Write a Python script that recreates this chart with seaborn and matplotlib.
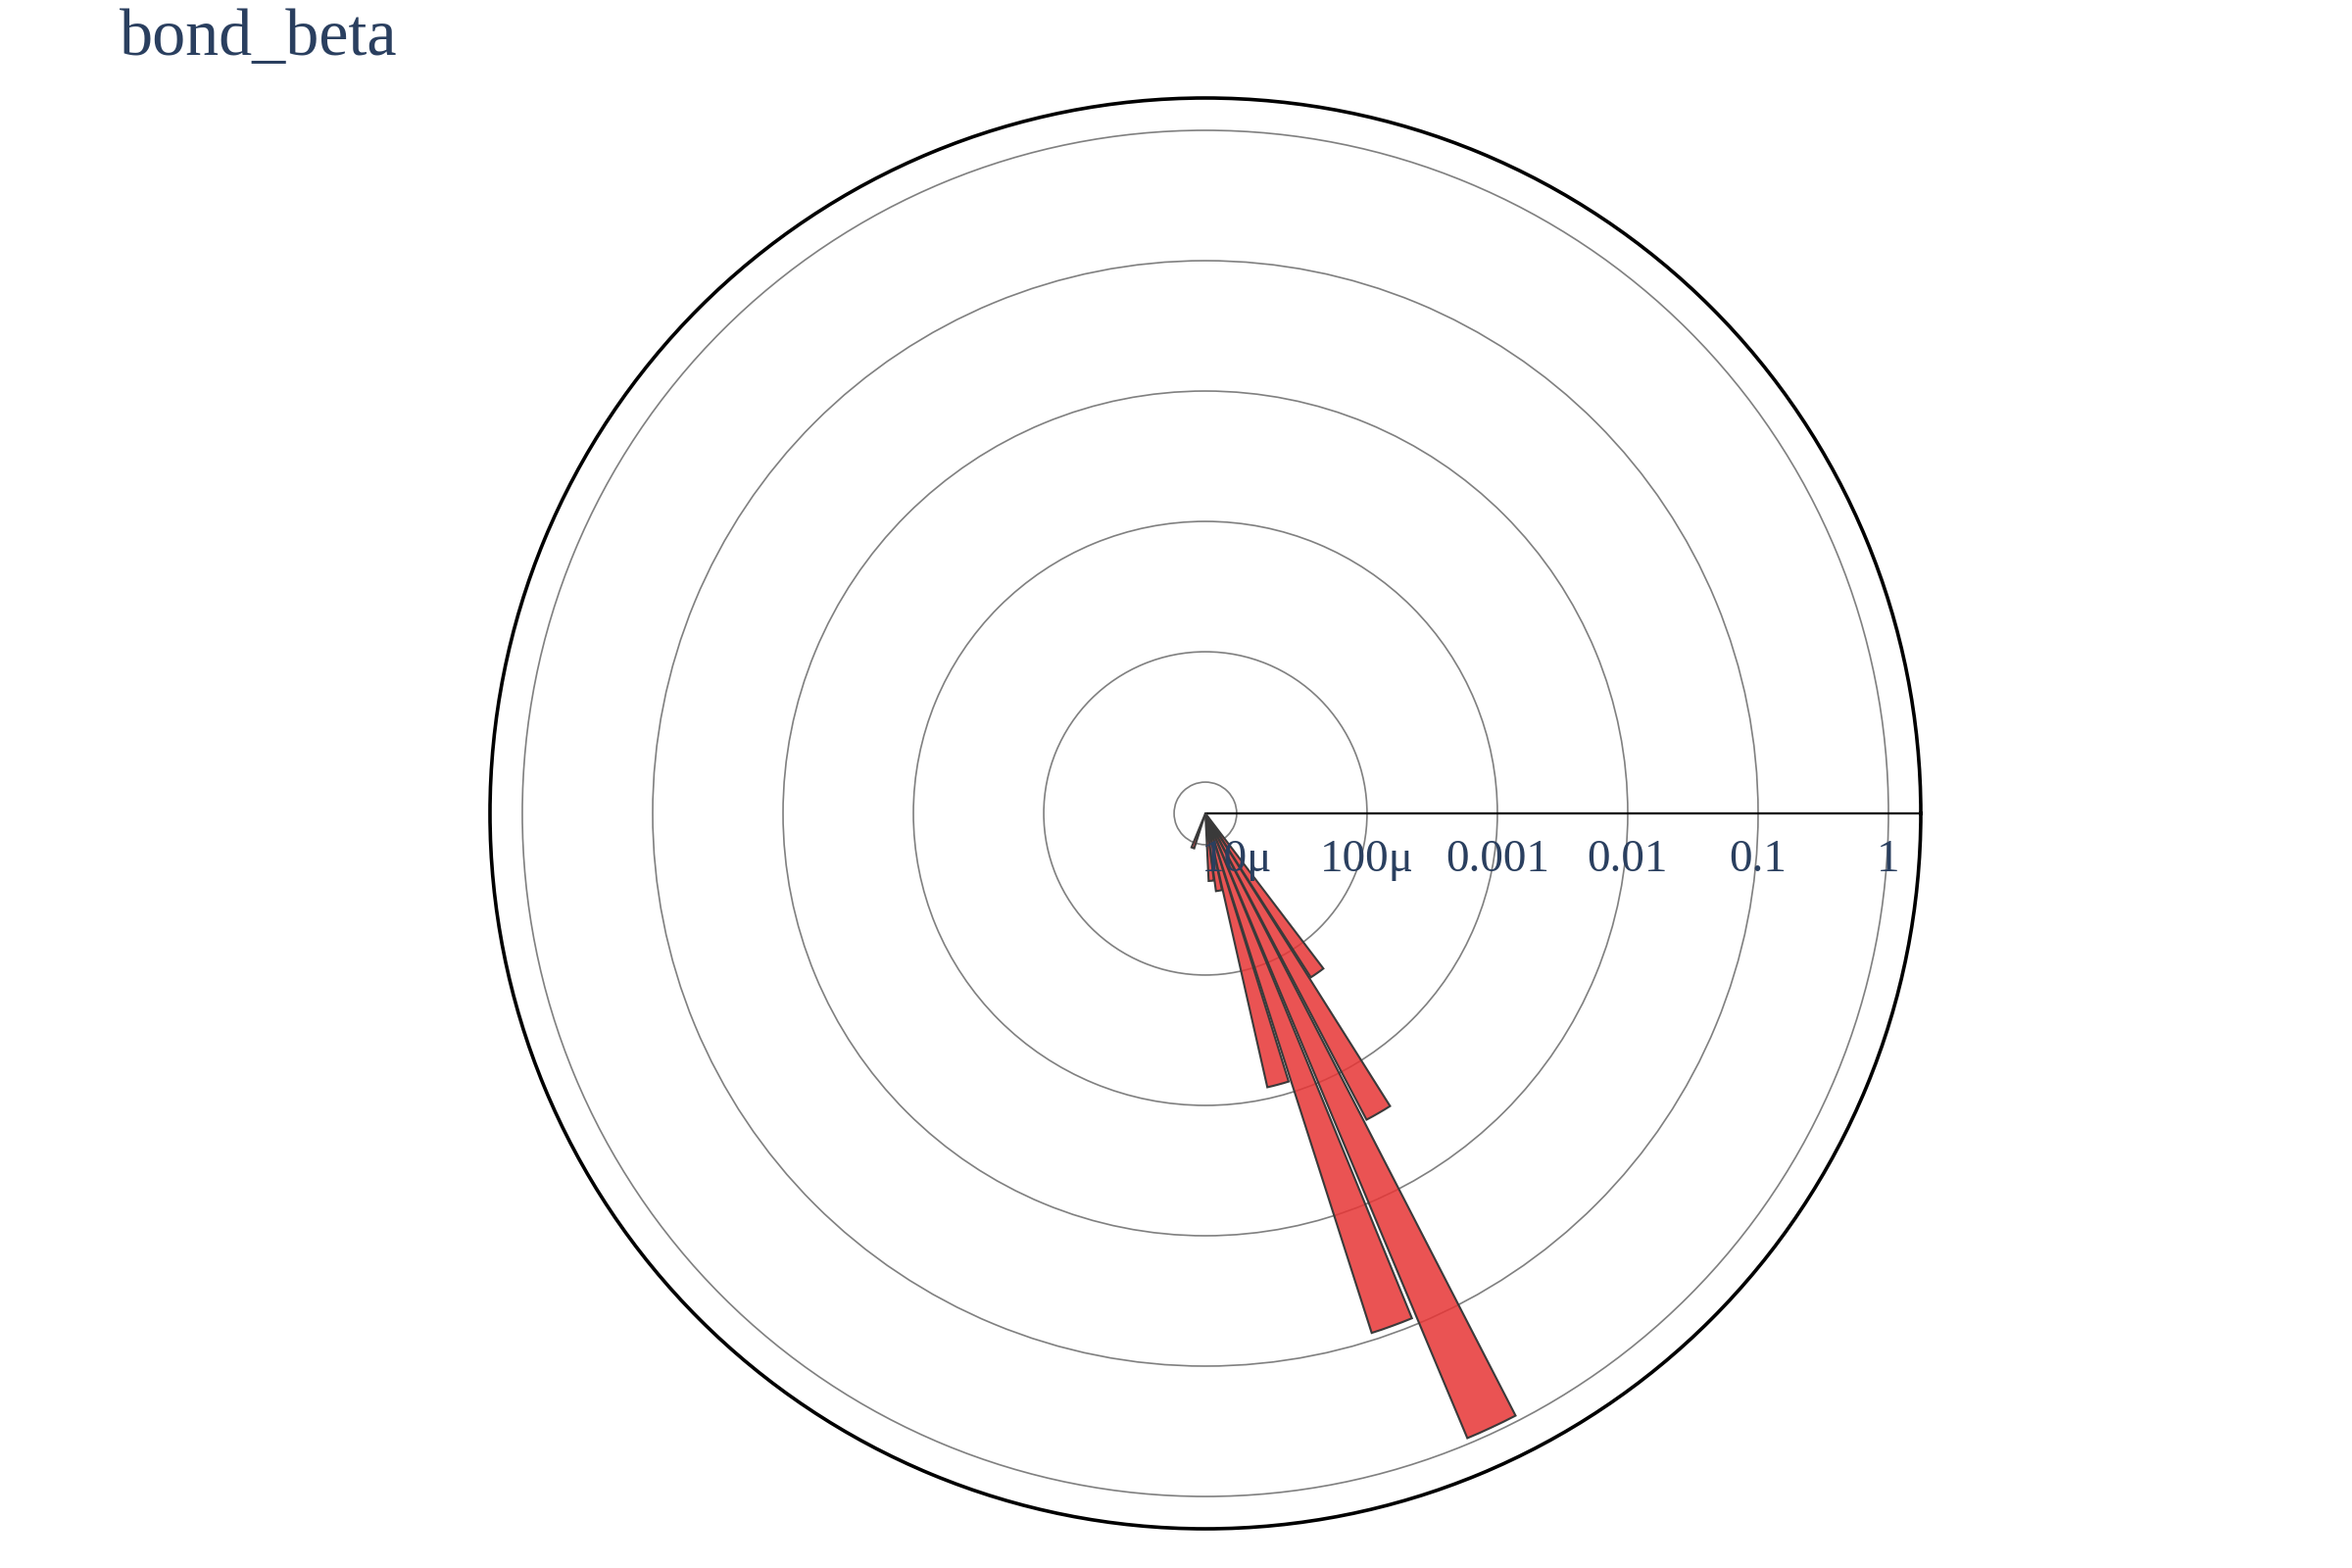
import numpy as np
import seaborn as sns
import matplotlib.pyplot as plt
from matplotlib.ticker import NullLocator
from matplotlib.transforms import offset_copy

sns.set_theme(style="white")
plt.rcParams['font.family'] = ['Liberation Serif', 'DejaVu Serif']

# histogram of bond_beta (degrees) -> probability, radial axis in log
theta_deg = [250, 275, 280, 285, 290, 295, 300, 305]
prob = [1.1e-5, 1.9e-5, 2.3e-5, 8.2e-4, 0.088, 0.905, 2.6e-3, 1.8e-4]
tick_vals = [1e-5, 1e-4, 1e-3, 1e-2, 0.1, 1]
tick_text = ["10μ", "100μ", "0.001", "0.01", "0.1", "1"]

r_lo, r_hi = 10 ** -5.24, 10 ** 0.248
txt_color = "#2a3f5f"

fig = plt.figure(figsize=(24, 16), dpi=100)
ax = fig.add_axes([0.20833, 0.025, 0.60833, 0.9125], projection="polar")
ax.set_rscale("log")
ax.set_rlim(r_lo, r_hi)
ax.set_axisbelow(True)

ax.bar(np.deg2rad(theta_deg), np.array(prob) - r_lo, width=np.deg2rad(4.5), bottom=r_lo,
       facecolor=(0.906, 0.208, 0.208, 0.85), edgecolor="#3a3a3a", linewidth=1.5, zorder=3)

ax.set_xticks([])
ax.set_yticks(tick_vals)
ax.yaxis.set_minor_locator(NullLocator())
ax.set_yticklabels([])
ax.yaxis.grid(True, color="#808080", linewidth=1.2)
ax.spines["polar"].set_color("black")
ax.spines["polar"].set_linewidth(2.6)
ax.axvline(0, color="black", linewidth=1.6, zorder=2)

lab_tr = offset_copy(ax.transData, fig=fig, x=0, y=-59, units="dots")
for tv, tt in zip(tick_vals, tick_text):
    ax.text(0, tv, tt, transform=lab_tr, ha="center", va="baseline",
            fontsize=34, color=txt_color, zorder=4)

fig.text(122 / 2400, 1 - 56 / 1600, "bond_beta", ha="left", va="baseline",
         fontsize=49, color=txt_color)

fig.savefig("out.png", dpi=100, facecolor="white")
